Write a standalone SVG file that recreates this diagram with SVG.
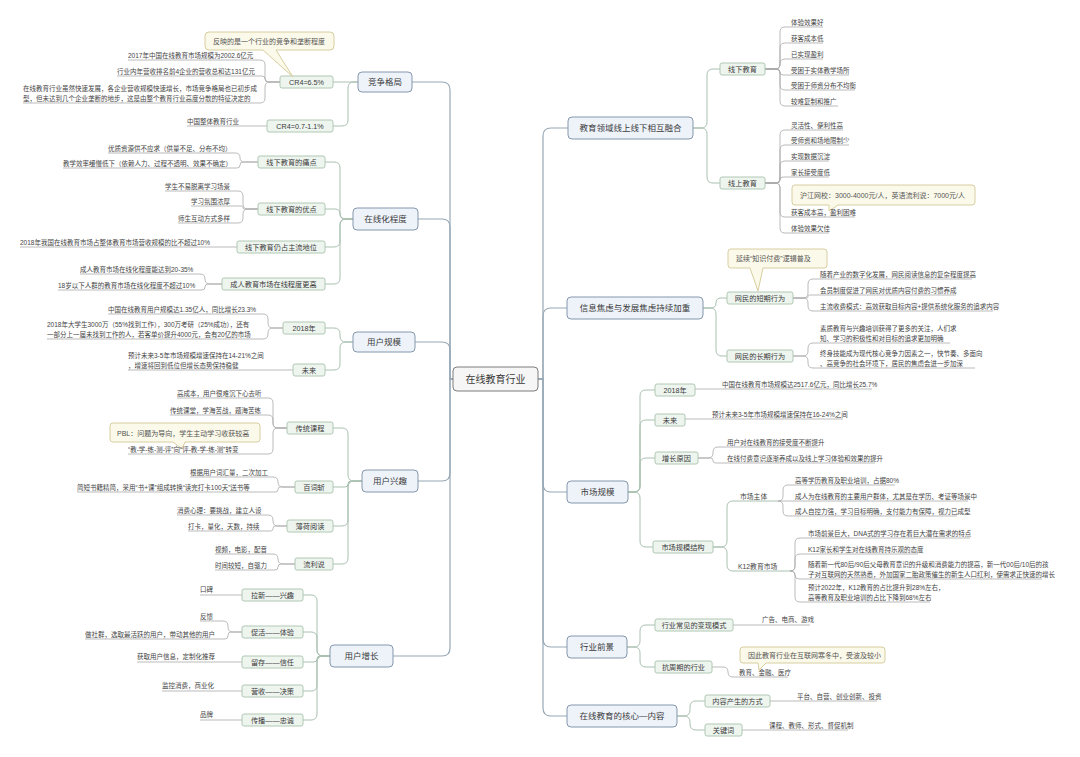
<svg xmlns="http://www.w3.org/2000/svg" width="1080" height="757" viewBox="0 0 1080 757">
<style>
text{font-family:"Liberation Sans","Noto Sans CJK SC",sans-serif;fill:#3a3a3a}
.main rect{fill:#eef3fa;stroke:#8497ac;stroke-width:1}
.ctr rect{fill:#f6f6f6;stroke:#7d7d7d;stroke-width:1}
.sub rect{fill:#eef5ef;stroke:#b0c8b4;stroke-width:1}
.call path{fill:#fbf9e9;stroke:#d7cea0;stroke-width:1}
.tm{font-size:8.5px;text-anchor:middle}
.tctr{font-size:10px;text-anchor:middle}
.ts{font-size:7.2px;text-anchor:middle}
.tl{font-size:6.5px;fill:#444}
.tc{font-size:7px;fill:#555}
.c1{fill:none;stroke:#97a8b6;stroke-width:1.2}
.c2{fill:none;stroke:#a9c0b0;stroke-width:1}
.c3{fill:none;stroke:#a9a9a9;stroke-width:0.8}
</style>
<rect width="1080" height="757" fill="#ffffff"/>
<g id="connectors">
<!-- main left -->
<path class="c1" d="M453,379 H450 V90 Q450,82 442,82 H412"/>
<path class="c1" d="M453,379 H450 V227 Q450,219 442,219 H418"/>
<path class="c1" d="M453,379 H450 V350 Q450,342 442,342 H415"/>
<path class="c1" d="M453,379 H450 V473 Q450,481 442,481 H418"/>
<path class="c1" d="M453,379 H450 V648 Q450,656 442,656 H393"/>
<!-- main right -->
<path class="c1" d="M538,379 H543 V136 Q543,128 551,128 H568"/>
<path class="c1" d="M538,379 H543 V316 Q543,308 551,308 H567"/>
<path class="c1" d="M538,379 H543 V484 Q543,492 551,492 H567"/>
<path class="c1" d="M538,379 H543 V639 Q543,647 551,647 H567"/>
<path class="c1" d="M538,379 H543 V708 Q543,716 551,716 H567"/>
<!-- level 2 left -->
<path class="c2" d="M358,82 H333"/>
<path class="c2" d="M358,82 H354 Q348,82 348,88 V120 Q348,126 342,126 H333"/>
<path class="c2" d="M353,219 H346 Q340,219 340,213 V168 Q340,162 334,162 H325"/>
<path class="c2" d="M353,219 H345 Q340,219 340,214 Q340,209 335,209 H325"/>
<path class="c2" d="M353,219 H346 Q340,219 340,225 V241 Q340,247 334,247 H325"/>
<path class="c2" d="M353,219 H346 Q340,219 340,225 V278 Q340,284 334,284 H325"/>
<path class="c2" d="M353,342 H346 Q340,342 340,336 V334 Q340,328 334,328 H325"/>
<path class="c2" d="M353,342 H346 Q340,342 340,348 V364 Q340,370 334,370 H325"/>
<path class="c2" d="M362,481 H354 Q348,481 348,475 V434 Q348,428 342,428 H333"/>
<path class="c2" d="M362,481 H351 Q348,481 348,484 Q348,487 345,487 H333"/>
<path class="c2" d="M362,481 H354 Q348,481 348,487 V520 Q348,526 342,526 H333"/>
<path class="c2" d="M362,481 H354 Q348,481 348,487 V558 Q348,564 342,564 H333"/>
<path class="c2" d="M330,656 H323 Q317,656 317,650 V601 Q317,595 311,595 H303"/>
<path class="c2" d="M330,656 H323 Q317,656 317,650 V638 Q317,632 311,632 H303"/>
<path class="c2" d="M330,656 H320 Q317,656 317,659 Q317,662 314,662 H303"/>
<path class="c2" d="M330,656 H323 Q317,656 317,662 V685 Q317,691 311,691 H303"/>
<path class="c2" d="M330,656 H323 Q317,656 317,662 V714 Q317,720 311,720 H303"/>
<!-- leaves left -->
<path class="c3" d="M280,82 H270 Q265,82 265,77 V65 Q265,60 260,60 H128"/>
<path class="c3" d="M280,82 H268 Q265,82 265,79 Q265,76 262,76 H117"/>
<path class="c3" d="M280,82 H270 Q265,82 265,87 V98 Q265,103 260,103 H23"/>
<path class="c3" d="M267,126 H187"/>
<path class="c3" d="M258,162 H244.5 Q240,162 240,157.5 Q240,153 235.5,153 H108"/>
<path class="c3" d="M258,162 H243 Q240,162 240,165 Q240,168 237,168 H63"/>
<path class="c3" d="M258,209 H248 Q243,209 243,204 V196 Q243,191 238,191 H165"/>
<path class="c3" d="M258,209 H244.5 Q243,209 243,207.5 Q243,206 241.5,206 H191"/>
<path class="c3" d="M258,209 H248 Q243,209 243,214 V218 Q243,223 238,223 H178"/>
<path class="c3" d="M237,247 H20"/>
<path class="c3" d="M222,284 H210 Q205,284 205,279 Q205,274 200,274 H80"/>
<path class="c3" d="M222,284 H208 Q205,284 205,287 Q205,290 202,290 H58"/>
<path class="c3" d="M283,328 H273 Q268,328 268,323 V319 Q268,314 263,314 H108"/>
<path class="c3" d="M283,328 H273 Q268,328 268,333 V334 Q268,339 263,339 H47"/>
<path class="c3" d="M293,370 H128"/>
<path class="c3" d="M287,428 H278 Q273,428 273,423 V403 Q273,398 268,398 H177"/>
<path class="c3" d="M287,428 H278 Q273,428 273,423 V420 Q273,415 268,415 H170"/>
<path class="c3" d="M287,428 H278 Q273,428 273,433 V449 Q273,454 268,454 H128"/>
<path class="c3" d="M295,487 H283 Q278,487 278,482 Q278,477 273,477 H190"/>
<path class="c3" d="M295,487 H280.5 Q278,487 278,489.5 Q278,492 275.5,492 H77"/>
<path class="c3" d="M287,526 H278 Q273,526 273,521 V520 Q273,515 268,515 H177"/>
<path class="c3" d="M287,526 H275.5 Q273,526 273,528.5 Q273,531 270.5,531 H188"/>
<path class="c3" d="M295,564 H283 Q278,564 278,559 Q278,554 273,554 H215"/>
<path class="c3" d="M295,564 H281 Q278,564 278,567 Q278,570 275,570 H215"/>
<path class="c3" d="M242,595 H200"/>
<path class="c3" d="M242,632 H233 Q228,632 228,627 V626 Q228,621 223,621 H200"/>
<path class="c3" d="M242,632 H231 Q228,632 228,635 V636 Q228,639 225,639 H85"/>
<path class="c3" d="M242,662 H137"/>
<path class="c3" d="M242,691 H162"/>
<path class="c3" d="M242,720 H200"/>
<!-- level 2 right -->
<path class="c2" d="M693,128 H701 Q707,128 707,122 V75 Q707,69 713,69 H720"/>
<path class="c2" d="M693,128 H701 Q707,128 707,134 V177 Q707,183 713,183 H720"/>
<path class="c2" d="M703,308 H711 Q716,308 716,303 Q716,298 721,298 H727"/>
<path class="c2" d="M703,308 H710 Q716,308 716,314 V350 Q716,356 722,356 H727"/>
<path class="c2" d="M628,492 H634 Q640,492 640,486 V396 Q640,390 646,390 H655"/>
<path class="c2" d="M628,492 H634 Q640,492 640,486 V426 Q640,420 646,420 H655"/>
<path class="c2" d="M628,492 H634 Q640,492 640,486 V464 Q640,458 646,458 H655"/>
<path class="c2" d="M628,492 H634 Q640,492 640,498 V541 Q640,547 646,547 H653"/>
<path class="c2" d="M627,647 H634 Q640,647 640,641 V631 Q640,625 646,625 H655"/>
<path class="c2" d="M627,647 H634 Q640,647 640,653 V661 Q640,667 646,667 H655"/>
<path class="c2" d="M677,716 H684 Q690,716 690,710 V707 Q690,701 696,701 H705"/>
<path class="c2" d="M677,716 H684 Q690,716 690,722 V724 Q690,730 696,730 H705"/>
<!-- leaves right -->
<path class="c3" d="M765,69 H775 Q780,69 780,64 V32 Q780,27 785,27 H823"/>
<path class="c3" d="M765,69 H775 Q780,69 780,64 V48 Q780,43 785,43 H823"/>
<path class="c3" d="M765,69 H775 Q780,69 780,64 Q780,59 785,59 H823"/>
<path class="c3" d="M765,69 H777 Q780,69 780,72 Q780,75 783,75 H849"/>
<path class="c3" d="M765,69 H775 Q780,69 780,74 V85 Q780,90 785,90 H855"/>
<path class="c3" d="M765,69 H775 Q780,69 780,74 V101 Q780,106 785,106 H838"/>
<path class="c3" d="M765,183 H775 Q780,183 780,178 V135 Q780,130 785,130 H843"/>
<path class="c3" d="M765,183 H775 Q780,183 780,178 V150 Q780,145 785,145 H849"/>
<path class="c3" d="M765,183 H775 Q780,183 780,178 V166 Q780,161 785,161 H829"/>
<path class="c3" d="M765,183 H777 Q780,183 780,180 Q780,177 783,177 H829"/>
<path class="c3" d="M765,183 H775 Q780,183 780,188 V212 Q780,217 785,217 H855"/>
<path class="c3" d="M765,183 H775 Q780,183 780,188 V228 Q780,233 785,233 H829"/>
<path class="c3" d="M793,298 H803 Q808,298 808,293 V284 Q808,279 813,279 H972"/>
<path class="c3" d="M793,298 H806.5 Q808,298 808,296.5 Q808,295 809.5,295 H956"/>
<path class="c3" d="M793,298 H803 Q808,298 808,303 V306 Q808,311 813,311 H993"/>
<path class="c3" d="M793,356 H803 Q808,356 808,351 V348 Q808,343 813,343 H950"/>
<path class="c3" d="M793,356 H803 Q808,356 808,361 V363 Q808,368 813,368 H975"/>
<path class="c3" d="M695,389 H872"/>
<path class="c3" d="M685,419 H843"/>
<path class="c3" d="M698,458 H708 Q713,458 713,453 V452 Q713,447 718,447 H818"/>
<path class="c3" d="M698,458 H710.5 Q713,458 713,460.5 Q713,463 715.5,463 H875"/>
<path class="c2" d="M713,547 H721 Q727,547 727,541 V507 Q727,501 733,501 H778"/>
<path class="c2" d="M713,547 H721 Q727,547 727,553 V565 Q727,571 733,571 H790"/>
<path class="c3" d="M778,501 Q783,501 783,496 V490 Q783,485 788,485 H895"/>
<path class="c3" d="M778,501 H968"/>
<path class="c3" d="M778,501 Q783,501 783,506 V511 Q783,516 788,516 H957"/>
<path class="c3" d="M790,571 Q795,571 795,566 V543 Q795,538 800,538 H970"/>
<path class="c3" d="M790,571 Q795,571 795,566 V559 Q795,554 800,554 H918"/>
<path class="c3" d="M790,571 Q795,571 795,575 Q795,579 799,579 H1042"/>
<path class="c3" d="M790,571 Q795,571 795,576 V597 Q795,602 800,602 H930"/>
<path class="c3" d="M733,625 H810"/>
<path class="c3" d="M712,667 H723 Q728,667 728,672 Q728,677 733,677 H788"/>
<path class="c3" d="M770,701 H877"/>
<path class="c3" d="M742,730 H848"/>
</g>

<g id="center" class="ctr"><rect x="453" y="367" width="85" height="24" rx="4"/><text class="tctr" x="495.5" y="382.5">在线教育行业</text></g>

<!-- main nodes -->
<g id="m-jzgj" class="main"><rect x="358" y="72" width="54" height="20" rx="4"/><text class="tm" x="385" y="85">竞争格局</text></g>
<g id="m-zxhcd" class="main"><rect x="353" y="208" width="65" height="22" rx="4"/><text class="tm" x="385.5" y="222">在线化程度</text></g>
<g id="m-yhgm" class="main"><rect x="353" y="332" width="62" height="20" rx="4"/><text class="tm" x="384" y="345">用户规模</text></g>
<g id="m-yhxq" class="main"><rect x="362" y="470" width="56" height="22" rx="4"/><text class="tm" x="390" y="484">用户兴趣</text></g>
<g id="m-yhzz" class="main"><rect x="330" y="645" width="63" height="22" rx="4"/><text class="tm" x="361.5" y="659">用户增长</text></g>
<g id="m-rh" class="main"><rect x="568" y="117" width="125" height="22" rx="4"/><text class="tm" x="630.5" y="131">教育领域线上线下相互融合</text></g>
<g id="m-jl" class="main"><rect x="567" y="297" width="136" height="22" rx="4"/><text class="tm" x="635" y="311">信息焦虑与发展焦虑持续加重</text></g>
<g id="m-scgm" class="main"><rect x="567" y="481" width="61" height="22" rx="4"/><text class="tm" x="597.5" y="495">市场规模</text></g>
<g id="m-hyqj" class="main"><rect x="567" y="636" width="60" height="22" rx="4"/><text class="tm" x="597" y="650">行业前景</text></g>
<g id="m-hx" class="main"><rect x="567" y="705" width="110" height="22" rx="4"/><text class="tm" x="622" y="719">在线教育的核心—内容</text></g>

<!-- sub nodes -->
<g id="s-cr4a" class="sub"><rect x="280" y="76" width="53" height="12" rx="2"/><text class="ts" x="306.5" y="84.6">CR4=6.5%</text></g>
<g id="s-cr4b" class="sub"><rect x="267" y="120" width="66" height="12" rx="2"/><text class="ts" x="300" y="128.6">CR4=0.7-1.1%</text></g>
<g id="s-td" class="sub"><rect x="258" y="156" width="67" height="12" rx="2"/><text class="ts" x="291.5" y="164.6">线下教育的痛点</text></g>
<g id="s-yd" class="sub"><rect x="258" y="203" width="67" height="12" rx="2"/><text class="ts" x="291.5" y="211.6">线下教育的优点</text></g>
<g id="s-zl" class="sub"><rect x="237" y="241" width="88" height="12" rx="2"/><text class="ts" x="281" y="249.6">线下教育仍占主流地位</text></g>
<g id="s-cr" class="sub"><rect x="222" y="278" width="103" height="12" rx="2"/><text class="ts" x="273.5" y="286.6">成人教育市场在线程度更高</text></g>
<g id="s-u2018" class="sub"><rect x="283" y="322" width="42" height="12" rx="2"/><text class="ts" x="304" y="330.6">2018年</text></g>
<g id="s-uwl" class="sub"><rect x="293" y="364" width="32" height="12" rx="2"/><text class="ts" x="309" y="372.6">未来</text></g>
<g id="s-ctkc" class="sub"><rect x="287" y="422" width="46" height="12" rx="2"/><text class="ts" x="310" y="430.6">传统课程</text></g>
<g id="s-bcz" class="sub"><rect x="295" y="481" width="38" height="12" rx="2"/><text class="ts" x="314" y="489.6">百词斩</text></g>
<g id="s-bhyd" class="sub"><rect x="287" y="520" width="46" height="12" rx="2"/><text class="ts" x="310" y="528.6">薄荷阅读</text></g>
<g id="s-lls" class="sub"><rect x="295" y="558" width="38" height="12" rx="2"/><text class="ts" x="314" y="566.6">流利说</text></g>
<g id="s-lx" class="sub"><rect x="242" y="589" width="61" height="12" rx="2"/><text class="ts" x="272.5" y="597.6">拉新——兴趣</text></g>
<g id="s-ch" class="sub"><rect x="242" y="626" width="61" height="12" rx="2"/><text class="ts" x="272.5" y="634.6">促活——体验</text></g>
<g id="s-lc" class="sub"><rect x="242" y="656" width="61" height="12" rx="2"/><text class="ts" x="272.5" y="664.6">留存——信任</text></g>
<g id="s-ys" class="sub"><rect x="242" y="685" width="61" height="12" rx="2"/><text class="ts" x="272.5" y="693.6">营收——决策</text></g>
<g id="s-cb" class="sub"><rect x="242" y="714" width="61" height="12" rx="2"/><text class="ts" x="272.5" y="722.6">传播——忠诚</text></g>
<g id="s-xx" class="sub"><rect x="720" y="63" width="45" height="12" rx="2"/><text class="ts" x="742.5" y="71.6">线下教育</text></g>
<g id="s-xs" class="sub"><rect x="720" y="177" width="45" height="12" rx="2"/><text class="ts" x="742.5" y="185.6">线上教育</text></g>
<g id="s-dq" class="sub"><rect x="727" y="292" width="66" height="12" rx="2"/><text class="ts" x="760" y="300.6">网民的短期行为</text></g>
<g id="s-cq" class="sub"><rect x="727" y="350" width="66" height="12" rx="2"/><text class="ts" x="760" y="358.6">网民的长期行为</text></g>
<g id="s-m2018" class="sub"><rect x="655" y="384" width="40" height="12" rx="2"/><text class="ts" x="675" y="392.6">2018年</text></g>
<g id="s-mwl" class="sub"><rect x="655" y="414" width="30" height="12" rx="2"/><text class="ts" x="670" y="422.6">未来</text></g>
<g id="s-zzyy" class="sub"><rect x="655" y="452" width="43" height="12" rx="2"/><text class="ts" x="676.5" y="460.6">增长原因</text></g>
<g id="s-gmjg" class="sub"><rect x="653" y="541" width="60" height="12" rx="2"/><text class="ts" x="683" y="549.6">市场规模结构</text></g>
<g id="s-bx" class="sub"><rect x="655" y="619" width="78" height="12" rx="2"/><text class="ts" x="694" y="627.6">行业常见的变现模式</text></g>
<g id="s-kzq" class="sub"><rect x="655" y="661" width="57" height="12" rx="2"/><text class="ts" x="683.5" y="669.6">抗周期的行业</text></g>
<g id="s-nr" class="sub"><rect x="705" y="695" width="65" height="12" rx="2"/><text class="ts" x="737.5" y="703.6">内容产生的方式</text></g>
<g id="s-gjc" class="sub"><rect x="705" y="724" width="37" height="12" rx="2"/><text class="ts" x="723.5" y="732.6">关键词</text></g>

<!-- callouts -->
<g id="co-1" class="call"><path d="M209,32 H330 Q334,32 334,36 V46 Q334,50 330,50 H276 L293,77 L263,50 H209 Q205,50 205,46 V36 Q205,32 209,32 Z"/><text class="tc" x="213" y="44">反映的是一个行业的竞争和垄断程度</text></g>
<g id="co-2" class="call"><path d="M113,423 H257 Q260,423 260,426 V439 Q260,442 257,442 H185 L182,449 L173,442 H113 Q110,442 110,439 V426 Q110,423 113,423 Z"/><text class="tc" x="117" y="435.5">PBL：问题为导向，学生主动学习收获较高</text></g>
<g id="co-3" class="call"><path d="M795,185 H972 Q975,185 975,188 V202 Q975,205 972,205 H838 L829,211 L829,205 H795 Q792,205 792,202 V188 Q792,185 795,185 Z"/><text class="tc" x="800" y="197.5">沪江网校：3000-4000元/人，英语流利说：7000元/人</text></g>
<g id="co-4" class="call"><path d="M731,249 H824 Q827,249 827,252 V265 Q827,268 824,268 H763 L758,291 L750,268 H731 Q728,268 728,265 V252 Q728,249 731,249 Z"/><text class="tc" x="736" y="261">延续“知识付费”逻辑普及</text></g>
<g id="co-5" class="call"><path d="M743,647 H882 Q885,647 885,650 V660 Q885,663 882,663 H766 L759,670 L758,663 H743 Q740,663 740,660 V650 Q740,647 743,647 Z"/><text class="tc" x="748" y="658">因此教育行业在互联网寒冬中，受波及较小</text></g>

<!-- leaves left -->
<g id="l1"><text class="tl" x="128" y="57.5">2017年中国在线教育市场规模为2002.6亿元</text></g>
<g id="l2"><text class="tl" x="117" y="73.5">行业内年营收排名前4企业的营收总和达131亿元</text></g>
<g id="l3"><text class="tl" x="23" y="91">在线教育行业虽然快速发展，各企业营收规模快速增长，市场竞争格局也已初步成</text><text class="tl" x="23" y="100.5">型，但未达到几个企业垄断的地步，这是由整个教育行业高度分散的特征决定的</text></g>
<g id="l4"><text class="tl" x="187" y="123.5">中国整体教育行业</text></g>
<g id="l5"><text class="tl" x="108" y="150.5">优质资源供不应求（供量不足、分布不均）</text></g>
<g id="l6"><text class="tl" x="63" y="165.5">教学效率缓慢低下（依赖人力、过程不透明、效果不确定）</text></g>
<g id="l7"><text class="tl" x="165" y="188.5">学生不易脱离学习场景</text></g>
<g id="l8"><text class="tl" x="191" y="203.5">学习氛围浓厚</text></g>
<g id="l9"><text class="tl" x="178" y="220.5">师生互动方式多样</text></g>
<g id="l10"><text class="tl" x="20" y="244.5">2018年我国在线教育市场占整体教育市场营收规模的比不超过10%</text></g>
<g id="l11"><text class="tl" x="80" y="271.5">成人教育市场在线化程度能达到20-35%</text></g>
<g id="l12"><text class="tl" x="58" y="287.5">18岁以下人群的教育市场在线化程度不超过10%</text></g>
<g id="l13"><text class="tl" x="108" y="311.5">中国在线教育用户规模达1.35亿人，同比增长23.3%</text></g>
<g id="l14"><text class="tl" x="47" y="327">2018年大学生3000万（55%找到工作），300万考研（25%成功），还有</text><text class="tl" x="47" y="336.5">一部分上一届未找到工作的人，若客单价提升4000元，会有20亿的市场</text></g>
<g id="l15"><text class="tl" x="128" y="358">预计未来3-5年市场规模增速保持在14-21%之间</text><text class="tl" x="128" y="367.5">，增速将回到低位但增长态势保持稳健</text></g>
<g id="l16"><text class="tl" x="177" y="395.5">高成本，用户很难沉下心去听</text></g>
<g id="l17"><text class="tl" x="170" y="412.5">传统课堂，学海苦战，题海苦练</text></g>
<g id="l18"><text class="tl" x="128" y="451.5">“教-学-练-测-评”向“评-教-学-练-测”转变</text></g>
<g id="l19"><text class="tl" x="190" y="474.5">根据用户词汇量，二次加工</text></g>
<g id="l20"><text class="tl" x="77" y="489.5">简短书籍精简，采用“书+课”组成转换“读完打卡100天”送书等</text></g>
<g id="l21"><text class="tl" x="177" y="512.5">消费心理：要挑战，建立人设</text></g>
<g id="l22"><text class="tl" x="188" y="528.5">打卡，量化，天数，持续</text></g>
<g id="l23"><text class="tl" x="215" y="551.5">视频，电影，配音</text></g>
<g id="l24"><text class="tl" x="215" y="567.5">时间较短，自驱力</text></g>
<g id="l25"><text class="tl" x="200" y="592">口碑</text></g>
<g id="l26"><text class="tl" x="200" y="618.5">反馈</text></g>
<g id="l27"><text class="tl" x="85" y="636.5">做社群，选取最活跃的用户，带动其他的用户</text></g>
<g id="l28"><text class="tl" x="137" y="659">获取用户信息，定制化推荐</text></g>
<g id="l29"><text class="tl" x="162" y="688">监控消费，商业化</text></g>
<g id="l30"><text class="tl" x="200" y="717">品牌</text></g>

<!-- leaves right -->
<g id="r1"><text class="tl" x="791" y="24.5">体验效果好</text></g>
<g id="r2"><text class="tl" x="791" y="40.5">获客成本低</text></g>
<g id="r3"><text class="tl" x="791" y="56.5">已实现盈利</text></g>
<g id="r4"><text class="tl" x="791" y="72.5">受困于实体教学场所</text></g>
<g id="r5"><text class="tl" x="791" y="87.5">受困于师资分布不均衡</text></g>
<g id="r6"><text class="tl" x="791" y="103.5">较难复制和推广</text></g>
<g id="r7"><text class="tl" x="791" y="127.5">灵活性、便利性高</text></g>
<g id="r8"><text class="tl" x="791" y="142.5">受师资和场地限制少</text></g>
<g id="r9"><text class="tl" x="791" y="158.5">实现数据沉淀</text></g>
<g id="r10"><text class="tl" x="791" y="174.5">家长接受度低</text></g>
<g id="r11"><text class="tl" x="791" y="214.5">获客成本高，盈利困难</text></g>
<g id="r12"><text class="tl" x="791" y="230.5">体验效果欠佳</text></g>
<g id="r13"><text class="tl" x="820" y="276.5">随着产业的数字化发展，网民阅读信息的复杂程度提高</text></g>
<g id="r14"><text class="tl" x="820" y="292.5">会员制度促进了网民对优质内容付费的习惯养成</text></g>
<g id="r15"><text class="tl" x="820" y="308.5">主流收费模式：高效获取目标内容+提供系统化服务的追求内容</text></g>
<g id="r16"><text class="tl" x="820" y="331">素质教育与兴趣培训获得了更多的关注，人们求</text><text class="tl" x="820" y="340.5">知、学习的积极性和对目标的追求更加明确</text></g>
<g id="r17"><text class="tl" x="820" y="356">终身技能成为现代核心竞争力因素之一，快节奏、多面向</text><text class="tl" x="820" y="365.5">、高竞争的社会环境下，居民的焦虑会进一步加深</text></g>
<g id="r18"><text class="tl" x="722" y="386.5">中国在线教育市场规模达2517.6亿元，同比增长25.7%</text></g>
<g id="r19"><text class="tl" x="712" y="416.5">预计未来3-5年市场规模增速保持在16-24%之间</text></g>
<g id="r20"><text class="tl" x="727" y="444.5">用户对在线教育的接受度不断提升</text></g>
<g id="r21"><text class="tl" x="727" y="460.5">在线付费意识逐渐养成以及线上学习体验和效果的提升</text></g>
<g id="r22"><text class="tl" x="740" y="498.5" style="font-size:6.8px">市场主体</text></g>
<g id="r23"><text class="tl" x="738" y="568.5" style="font-size:6.8px">K12教育市场</text></g>
<g id="r24"><text class="tl" x="795" y="482.5">高等学历教育及职业培训，占据80%</text></g>
<g id="r25"><text class="tl" x="795" y="498.5">成人为在线教育的主要用户群体，尤其是在学历、考证等场景中</text></g>
<g id="r26"><text class="tl" x="795" y="513.5">成人自控力强，学习目标明确，支付能力有保障，视力已成型</text></g>
<g id="r27"><text class="tl" x="808" y="535.5">市场前景巨大，DNA式的学习存在着巨大潜在需求的特点</text></g>
<g id="r28"><text class="tl" x="808" y="551.5">K12家长和学生对在线教育持乐观的态度</text></g>
<g id="r29"><text class="tl" x="808" y="567">随着新一代80后/90后父母教育意识的升级和消费能力的提高，新一代00后/10后的孩</text><text class="tl" x="808" y="576.5">子对互联网的天然熟悉，外加国家二胎政策催生的新生人口红利，使需求正快速的增长</text></g>
<g id="r30"><text class="tl" x="808" y="590">预计2022年，K12教育的占比提升到28%左右，</text><text class="tl" x="808" y="599.5">高等教育及职业培训的占比下降到68%左右</text></g>
<g id="r31"><text class="tl" x="762" y="621.5">广告、电商、游戏</text></g>
<g id="r32"><text class="tl" x="739" y="674.5">教育、金融、医疗</text></g>
<g id="r33"><text class="tl" x="797" y="698.5">平台、自营、创业创新、投资</text></g>
<g id="r34"><text class="tl" x="769" y="727.5">课程、教师、形式、督促机制</text></g>
</svg>
